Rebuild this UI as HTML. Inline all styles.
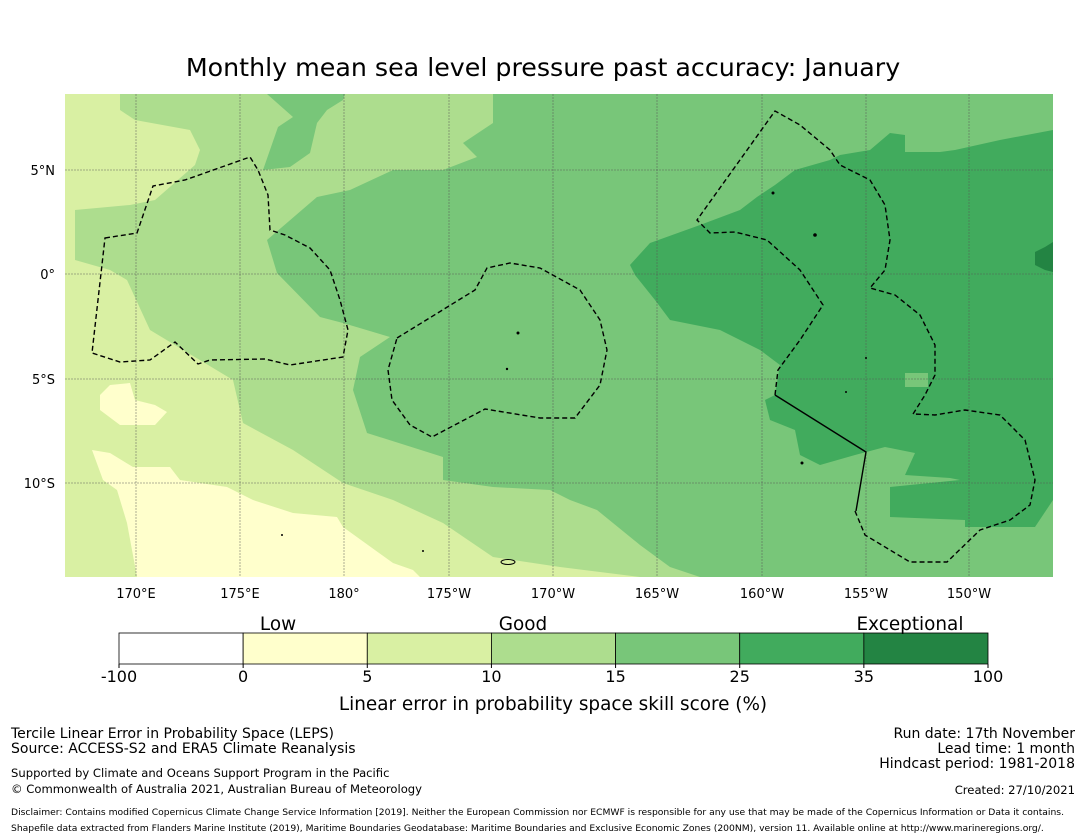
<!DOCTYPE html>
<html><head><meta charset="utf-8"><style>
body{margin:0;background:#fff;width:1085px;height:839px;overflow:hidden;font-family:"DejaVu Sans","Liberation Sans",sans-serif}
svg{display:block}
</style></head><body>
<svg width="1085" height="839" viewBox="0 0 1085 839">
<text x="543" y="76" font-size="25.3" text-anchor="middle">Monthly mean sea level pressure past accuracy: January</text>
<defs><clipPath id="mc"><rect x="65" y="94" width="988" height="483"/></clipPath></defs>
<g clip-path="url(#mc)">
<rect x="65" y="94" width="988" height="483" fill="#d9f0a3"/>
<polygon fill="#addd8e" points="120,94 1053,94 1053,577 640,577 560,567 493,557 443,523 393,500 343,483 293,450 243,423 233,380 150,330 127,280 110,270 75,260 75,210 130,205 155,200 195,165 200,150 190,130 135,120 120,110"/>
<polygon fill="#78c679" points="267,94 345,94 343,100 327,110 317,123 310,153 290,167 263,170 278,127 293,117"/>
<polygon fill="#78c679" points="493,94 1053,94 1053,577 700,577 670,567 640,545 597,510 570,500 550,490 493,487 443,480 443,457 367,433 353,390 360,357 390,337 343,323 320,317 277,273 267,240 317,197 350,190 393,170 443,170 477,157 463,143 493,123"/>
<polygon fill="#41ab5d" points="1053,130 1000,140 955,150 940,152 905,152 905,135 890,133 870,150 840,155 830,160 795,170 775,185 757,197 740,210 700,225 650,243 630,265 635,275 655,300 670,320 720,330 760,350 780,365 775,395 765,400 770,420 795,430 800,455 820,465 855,455 885,447 915,453 905,475 950,478 960,480 890,487 890,517 965,520 965,527 1035,527 1053,500"/>
<rect x="905" y="373" width="23" height="14" fill="#78c679"/>
<polygon fill="#238443" points="1053,242 1045,247 1035,252 1035,265 1045,270 1053,272"/>
<polygon fill="#ffffcc" points="100,395 110,385 130,383 135,400 155,405 167,412 155,425 120,425 100,410"/>
<polygon fill="#ffffcc" points="92,450 110,453 133,467 170,467 180,480 227,487 253,500 293,513 337,517 343,527 393,563 413,570 420,577 137,577 127,523 117,490 103,480"/>
<g stroke="#555" stroke-width="0.8" stroke-opacity="0.6" stroke-dasharray="2,1">
<line x1="136" y1="94" x2="136" y2="577"/><line x1="240" y1="94" x2="240" y2="577"/><line x1="344" y1="94" x2="344" y2="577"/><line x1="449" y1="94" x2="449" y2="577"/><line x1="553" y1="94" x2="553" y2="577"/><line x1="657" y1="94" x2="657" y2="577"/><line x1="762" y1="94" x2="762" y2="577"/><line x1="866" y1="94" x2="866" y2="577"/><line x1="969" y1="94" x2="969" y2="577"/>
<line x1="65" y1="170" x2="1053" y2="170"/><line x1="65" y1="274" x2="1053" y2="274"/><line x1="65" y1="379" x2="1053" y2="379"/><line x1="65" y1="483" x2="1053" y2="483"/>
</g>
<g fill="none" stroke="#000" stroke-width="1.4" stroke-dasharray="5,3">
<polygon points="105,238 137,233 153,186 185,180 250,157 258,170 268,195 270,230 285,235 310,248 330,270 340,300 348,330 343,357 290,365 265,359 210,360 198,364 175,342 150,360 120,362 92,353"/>
<polygon points="397,338 475,290 487,268 510,263 540,268 580,290 600,320 607,350 600,385 575,418 540,418 485,409 432,437 410,425 392,400 388,370"/>
<polyline points="855,511 865,535 910,562 947,562 980,530 1010,520 1030,505 1035,480 1025,440 1000,415 965,410 935,415 913,414 925,395 935,375 935,345 920,315 895,295 870,288 885,270 890,240 885,205 870,180 840,165 830,150 800,125 775,111 697,220 710,233 735,232 767,240 800,270 823,305 800,340 778,370 775,395"/>
</g>
<polyline points="775,395 866,452 856,511" fill="none" stroke="#000" stroke-width="1.4"/>
<g fill="#000">
<circle cx="518" cy="333" r="1.5"/><circle cx="507" cy="369" r="1.2"/><circle cx="773" cy="193" r="1.5"/><circle cx="815" cy="235" r="1.8"/><circle cx="866" cy="358" r="1"/><circle cx="846" cy="392" r="1"/><circle cx="802" cy="463" r="1.5"/><circle cx="282" cy="535" r="1"/><circle cx="423" cy="551" r="1"/>
<ellipse cx="508" cy="562" rx="7" ry="2.5" fill="none" stroke="#000"/>
</g>
</g>
<g font-size="13">
<text x="55" y="175" text-anchor="end">5°N</text><text x="55" y="279" text-anchor="end">0°</text><text x="55" y="384" text-anchor="end">5°S</text><text x="55" y="488" text-anchor="end">10°S</text>
</g>
<g font-size="13" text-anchor="middle">
<text x="136" y="598">170°E</text><text x="240" y="598">175°E</text><text x="344" y="598">180°</text><text x="449" y="598">175°W</text><text x="553" y="598">170°W</text><text x="657" y="598">165°W</text><text x="762" y="598">160°W</text><text x="866" y="598">155°W</text><text x="969" y="598">150°W</text>
</g>
<g id="cbar"></g>
<g font-size="18.4" text-anchor="middle">
<text x="278" y="630">Low</text><text x="523" y="630">Good</text><text x="910" y="630">Exceptional</text>
</g>
<text x="553" y="710" font-size="18.4" text-anchor="middle">Linear error in probability space skill score (%)</text>
<g font-size="14">
<text x="11" y="738">Tercile Linear Error in Probability Space (LEPS)</text>
<text x="11" y="753">Source: ACCESS-S2 and ERA5 Climate Reanalysis</text>
<text x="11" y="777" font-size="11.6">Supported by Climate and Oceans Support Program in the Pacific</text>
<text x="11" y="793" font-size="11.6">© Commonwealth of Australia 2021, Australian Bureau of Meteorology</text>
<text x="11" y="815" font-size="9.2">Disclaimer: Contains modified Copernicus Climate Change Service Information [2019]. Neither the European Commission nor ECMWF is responsible for any use that may be made of the Copernicus Information or Data it contains.</text>
<text x="11" y="831" font-size="9.2">Shapefile data extracted from Flanders Marine Institute (2019), Maritime Boundaries Geodatabase: Maritime Boundaries and Exclusive Economic Zones (200NM), version 11. Available online at http://www.marineregions.org/.</text>
</g>
<g font-size="14" text-anchor="end">
<text x="1075" y="738">Run date: 17th November</text>
<text x="1075" y="753">Lead time: 1 month</text>
<text x="1075" y="768">Hindcast period: 1981-2018</text>
<text x="1075" y="794" font-size="11.6">Created: 27/10/2021</text>
</g>
</svg>
<script>
const bandColors=["#ffffff","#ffffcc","#d9f0a3","#addd8e","#78c679","#41ab5d","#238443"];
const tickLabels=["-100","0","5","10","15","25","35","100"];
const NS="http://www.w3.org/2000/svg";
const g=document.getElementById("cbar");
const x0=119,x1=988,y0=633,h=31;
const w=(x1-x0)/bandColors.length;
function xPos(i){return x0+i*w;}
bandColors.forEach((c,i)=>{
 const r=document.createElementNS(NS,"rect");
 r.setAttribute("x",xPos(i));r.setAttribute("y",y0);r.setAttribute("width",w);r.setAttribute("height",h);
 r.setAttribute("fill",c);r.setAttribute("stroke","#000");r.setAttribute("stroke-width","0.8");
 
 
 g.appendChild(r);
});
tickLabels.forEach((t,i)=>{
 const l=document.createElementNS(NS,"line");
 l.setAttribute("x1",xPos(i));l.setAttribute("x2",xPos(i));l.setAttribute("y1",y0+h);l.setAttribute("y2",y0+h+4);l.setAttribute("stroke","#000");
 
 
 g.appendChild(l);
 const tx=document.createElementNS(NS,"text");
 tx.setAttribute("x",xPos(i));tx.setAttribute("y",y0+h+18);tx.setAttribute("text-anchor","middle");tx.setAttribute("font-size","16");
 tx.textContent=t;
 
 
 g.appendChild(tx);
});
</script>
</body></html>
